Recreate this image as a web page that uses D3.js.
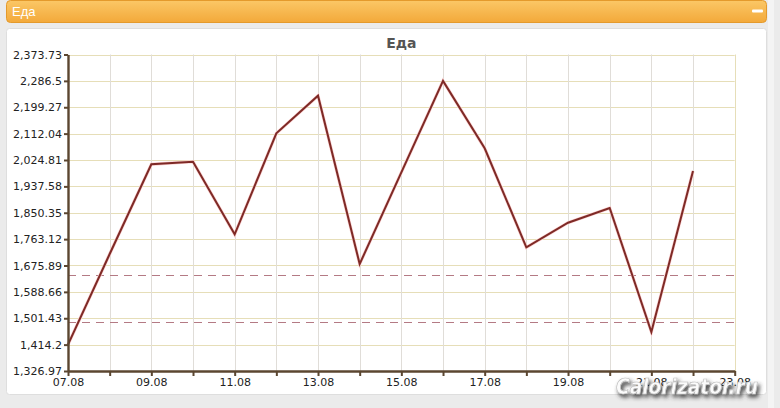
<!DOCTYPE html>
<html><head><meta charset="utf-8">
<script src="https://cdn.jsdelivr.net/npm/d3@7"></script>
<style>body{margin:0;background:#ebebeb;overflow:hidden} svg{display:block}</style>
</head><body>
<svg id="c" width="780" height="408"></svg>
<script>
const dates = ["07.08","08.08","09.08","10.08","11.08","12.08","13.08","14.08","15.08","16.08","17.08","18.08","19.08","20.08","21.08","22.08"];
const values = [1414.2,1714,2010.6,2019,1779,2113,2237.4,1680.8,1983.8,2286.5,2063.5,1736,1817.4,1866,1456,1988.4];
const axisDates = [...dates, "23.08"];
const yTickValues = [1326.97,1414.2,1501.43,1588.66,1675.89,1763.12,1850.35,1937.58,2024.81,2112.04,2199.27,2286.5,2373.73];
const refLines = [1643.4, 1488];
const panelTitle = "Еда";
const chartTitle = "Еда";
const watermark = "Calorizator.ru";

(function(){
const svg = d3.select("#c");
const defs = svg.append("defs");
const g1 = defs.append("linearGradient").attr("id","hdr").attr("x1",0).attr("y1",0).attr("x2",0).attr("y2",1);
g1.append("stop").attr("offset","0%").attr("stop-color","#fbc766");
g1.append("stop").attr("offset","100%").attr("stop-color","#f3a93a");
const f = defs.append("filter").attr("id","sh").attr("x","-10%").attr("y","-40%").attr("width","130%").attr("height","190%");
f.append("feDropShadow").attr("dx",2).attr("dy",3).attr("stdDeviation",2).attr("flood-color","#333").attr("flood-opacity",1);

// page
svg.append("rect").attr("width",780).attr("height",408).attr("fill","#ebebeb");
svg.append("rect").attr("x",768).attr("y",0).attr("width",6).attr("height",408).attr("fill","#f4f4f4");
// panel
svg.append("rect").attr("x",6.5).attr("y",28.5).attr("width",760).attr("height",366).attr("rx",3)
  .attr("fill","#ffffff").attr("stroke","#dedede");
// header bar
svg.append("rect").attr("x",6.5).attr("y",0.5).attr("width",760).attr("height",22).attr("rx",4)
  .attr("fill","url(#hdr)").attr("stroke","#e49a2c");
svg.append("text").attr("x",12).attr("y",15.5).attr("fill","#ffffff")
  .style("font-family","'Liberation Sans Narrow','Arial Narrow','Liberation Sans',sans-serif").style("font-size","13px")
  .text(panelTitle);
svg.append("rect").attr("x",752).attr("y",9.5).attr("width",11).attr("height",3).attr("rx",1).attr("fill","#ffffff");

const mLeft = 68, mRight = 734.7, mTop = 54.5, mBottom = 371;
const x = d3.scalePoint().domain(axisDates).range([mLeft, mRight]);
const y = d3.scaleLinear().domain([yTickValues[0], yTickValues[yTickValues.length-1]]).range([mBottom, mTop]);

// title
svg.append("text").attr("x",(mLeft+mRight)/2).attr("y",48).attr("text-anchor","middle")
  .attr("fill","#555").style("font-family","'DejaVu Sans',Verdana,sans-serif").style("font-size","14px").style("font-weight","bold")
  .text(chartTitle);

// grid
const grid = svg.append("g");
grid.selectAll(".hg").data(yTickValues).join("line")
  .attr("x1",mLeft).attr("x2",mRight).attr("y1",d=>Math.round(y(d))+0.5).attr("y2",d=>Math.round(y(d))+0.5)
  .attr("stroke","#e6deb8").attr("stroke-width",1);
grid.selectAll(".vg").data(axisDates).join("line")
  .attr("y1",mTop).attr("y2",mBottom).attr("x1",d=>Math.round(x(d))+0.5).attr("x2",d=>Math.round(x(d))+0.5)
  .attr("stroke",(d,i)=> i===axisDates.length-1 ? "#e6deb8" : "#e0ddd8").attr("stroke-width",1);

// reference lines
svg.selectAll(".ref").data(refLines).join("line")
  .attr("x1",mLeft).attr("x2",mRight).attr("y1",d=>Math.round(y(d))+0.5).attr("y2",d=>Math.round(y(d))+0.5)
  .attr("stroke","#b47a84").attr("stroke-width",1).attr("stroke-dasharray","8,6");

// line
const lineGen = d3.line().x((d,i)=>x(dates[i])).y(d=>y(d));
svg.append("path").datum(values).attr("d", lineGen)
  .attr("fill","none").attr("stroke","#fbd0d0").attr("stroke-width",3.2).attr("stroke-linejoin","miter");
svg.append("path").datum(values).attr("d", lineGen)
  .attr("fill","none").attr("stroke","#7e2a26").attr("stroke-width",2).attr("stroke-linejoin","miter");

// axes
const fmt = d3.format(",");
const ya = svg.append("g").attr("transform",`translate(${mLeft},0)`)
  .call(d3.axisLeft(y).tickValues(yTickValues).tickFormat(fmt).tickSize(4).tickSizeOuter(0));
const xa = svg.append("g").attr("transform",`translate(0,${mBottom})`)
  .call(d3.axisBottom(x).tickFormat((d,i)=> i%2===0 ? d : "").tickSize(5).tickSizeOuter(0));
[ya,xa].forEach(a=>{
  a.select(".domain").attr("stroke","#5b4630").attr("stroke-width",2.4);
  a.selectAll(".tick line").attr("stroke","#5b4630").attr("stroke-width",2);
  a.selectAll(".tick text").attr("fill","#222").style("font-family","'DejaVu Sans',Verdana,sans-serif").style("font-size","11px");
});
ya.selectAll(".tick text").attr("x",-6);
xa.selectAll(".tick text").attr("y",7);

// watermark
svg.append("text").attr("x",616).attr("y",394).attr("textLength",142).attr("lengthAdjust","spacingAndGlyphs")
  .attr("fill","#fbfbfb").attr("stroke","#bdbdbd").attr("stroke-width",0.7).attr("filter","url(#sh)")
  .style("font-family","'DejaVu Sans',sans-serif").style("font-size","21px").style("font-weight","bold").style("font-style","italic")
  .text(watermark);
})();
</script>
</body></html>
